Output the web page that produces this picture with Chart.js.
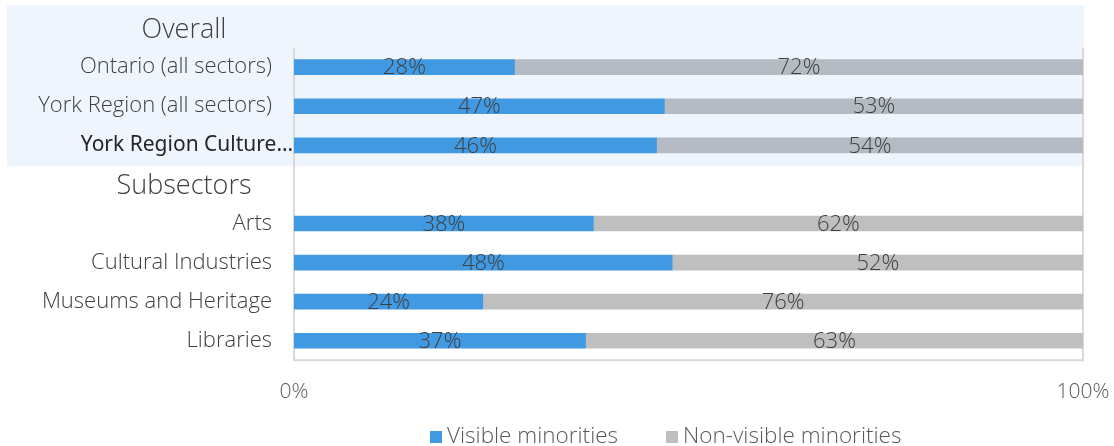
<!DOCTYPE html>
<html>
<head>
<meta charset="utf-8">
<title>Visible minorities by sector</title>
<script src="https://cdn.jsdelivr.net/npm/chart.js@4.4.1/dist/chart.umd.min.js"></script>
<style>
  html, body { margin: 0; padding: 0; background: #fff; }
  #wrap { position: relative; width: 1114px; height: 446px; }
  #legend {
    position: absolute; left: 430px; top: 419px;
    display: flex; align-items: center;
    font: 300 22.5px "Open Sans", sans-serif; color: #595959;
  }
  #legend .item { display: flex; align-items: center; margin-right: 48px; }
  #legend .swatch { width: 12px; height: 12px; margin-right: 5px; margin-top: 4px; }
</style>
</head>
<body>
<div id="wrap">
  <canvas id="chart" width="1114" height="446"></canvas>
  <div id="legend"></div>
</div>
<script>
const categories = [
  'Overall',
  'Ontario (all sectors)',
  'York Region (all sectors)',
  'York Region Culture…',
  'Subsectors',
  'Arts',
  'Cultural Industries',
  'Museums and Heritage',
  'Libraries'
];
const headerRows = ['Overall', 'Subsectors'];
const truncatedRows = ['York Region Culture…'];
const seriesNames = ['Visible minorities', 'Non-visible minorities'];
const visibleMinorities = [null, 28, 47, 46, null, 38, 48, 24, 37];
const nonVisibleMinorities = [null, 72, 53, 54, null, 62, 52, 76, 63];
const xTicks = [0, 100];

const FONT = '"Open Sans", sans-serif';
const BLUE = '#4199E1';
const GREY = '#BFBFBF';
const GREY_TOP = '#B5BBC3';

const isHeader = i => headerRows.includes(categories[i]);
const isTruncated = i => truncatedRows.includes(categories[i]);
// the first block (up to the second header) sits on the shaded band
const inTopBlock = i => i < categories.indexOf(headerRows[1]);

// shaded band behind the "Overall" block
const bandPlugin = {
  id: 'band',
  beforeDraw(chart) {
    const { ctx, chartArea, scales: { y } } = chart;
    const split = categories.indexOf(headerRows[1]);
    const bottom = (y.getPixelForValue(split - 1) + y.getPixelForValue(split)) / 2;
    ctx.save();
    ctx.fillStyle = '#EEF5FD';
    ctx.fillRect(7, 5, chartArea.right + 1 - 7, bottom + 1 - 5);
    ctx.restore();
  }
};

// open-topped frame around the bars
const framePlugin = {
  id: 'frame',
  beforeDatasetsDraw(chart) {
    const { ctx, chartArea, scales: { y } } = chart;
    const top = (y.getPixelForValue(0) + y.getPixelForValue(1)) / 2;
    ctx.save();
    ctx.strokeStyle = '#D9D9D9';
    ctx.lineWidth = 2;
    ctx.beginPath();
    ctx.moveTo(chartArea.left, top);
    ctx.lineTo(chartArea.left, chartArea.bottom);
    ctx.lineTo(chartArea.right, chartArea.bottom);
    ctx.lineTo(chartArea.right, top);
    ctx.stroke();
    ctx.restore();
  }
};

// section headings and the clipped label, drawn in the y axis gutter
const gutterLabels = {
  id: 'gutterLabels',
  afterDraw(chart) {
    const { ctx, chartArea, scales: { y } } = chart;
    ctx.save();
    ctx.textBaseline = 'middle';
    categories.forEach((c, i) => {
      const py = y.getPixelForValue(i);
      if (isHeader(i)) {
        ctx.font = '300 27px ' + FONT;
        ctx.fillStyle = '#404040';
        ctx.textAlign = 'center';
        ctx.fillText(c, 184, py + 2);
      } else if (isTruncated(i)) {
        ctx.font = '400 21px "Noto Sans", sans-serif';
        ctx.fillStyle = '#262626';
        ctx.textAlign = 'right';
        ctx.fillText(c, chartArea.left - 1, py);
      }
    });
    ctx.restore();
  }
};

// percentage printed in the middle of each segment
const valueLabels = {
  id: 'valueLabels',
  afterDatasetsDraw(chart) {
    const { ctx } = chart;
    ctx.save();
    ctx.font = '300 22px ' + FONT;
    ctx.fillStyle = '#404040';
    ctx.textAlign = 'center';
    ctx.textBaseline = 'middle';
    chart.data.datasets.forEach((ds, di) => {
      chart.getDatasetMeta(di).data.forEach((bar, i) => {
        const v = ds.data[i];
        if (v == null) return;
        ctx.fillText(v + '%', (bar.x + bar.base) / 2, bar.y + 1);
      });
    });
    ctx.restore();
  }
};

new Chart(document.getElementById('chart'), {
  type: 'bar',
  data: {
    labels: categories,
    datasets: [
      {
        label: seriesNames[0],
        data: visibleMinorities,
        backgroundColor: BLUE
      },
      {
        label: seriesNames[1],
        data: nonVisibleMinorities,
        backgroundColor: categories.map((c, i) => inTopBlock(i) ? GREY_TOP : GREY)
      }
    ]
  },
  options: {
    indexAxis: 'y',
    responsive: false,
    animation: false,
    events: [],
    categoryPercentage: 1,
    barPercentage: 0.4,
    layout: { padding: { top: 8.5, right: 31, bottom: 22.5, left: 0 } },
    plugins: {
      legend: { display: false },
      tooltip: { enabled: false }
    },
    scales: {
      x: {
        stacked: true,
        min: xTicks[0],
        max: xTicks[xTicks.length - 1],
        afterBuildTicks(scale) { scale.ticks = xTicks.map(v => ({ value: v })); },
        // edge labels may hang over the plot; don't let them shrink it
        afterFit(scale) { scale.paddingLeft = 0; scale.paddingRight = 0; },
        grid: { display: false, drawTicks: false },
        border: { display: false },
        ticks: {
          padding: 19,
          color: '#595959',
          font: { family: FONT, size: 21, weight: 300 },
          callback: v => v + '%'
        }
      },
      y: {
        stacked: true,
        afterFit(scale) {
          scale.width = 294;
          scale.paddingTop = 0;
          scale.paddingBottom = 0;
        },
        grid: { display: false, drawTicks: false },
        border: { display: false },
        ticks: {
          padding: 22,
          autoSkip: false,
          callback: (v, i) => (isHeader(i) || isTruncated(i)) ? '' : categories[i],
          color: '#404040',
          font: { family: FONT, size: 22, weight: 300 }
        }
      }
    }
  },
  plugins: [bandPlugin, framePlugin, gutterLabels, valueLabels]
});

// legend
const legend = document.getElementById('legend');
[[seriesNames[0], BLUE], [seriesNames[1], GREY]].forEach(([name, color]) => {
  const item = document.createElement('div');
  item.className = 'item';
  item.innerHTML = '<span class="swatch" style="background:' + color + '"></span><span>' + name + '</span>';
  legend.appendChild(item);
});
</script>
</body>
</html>
